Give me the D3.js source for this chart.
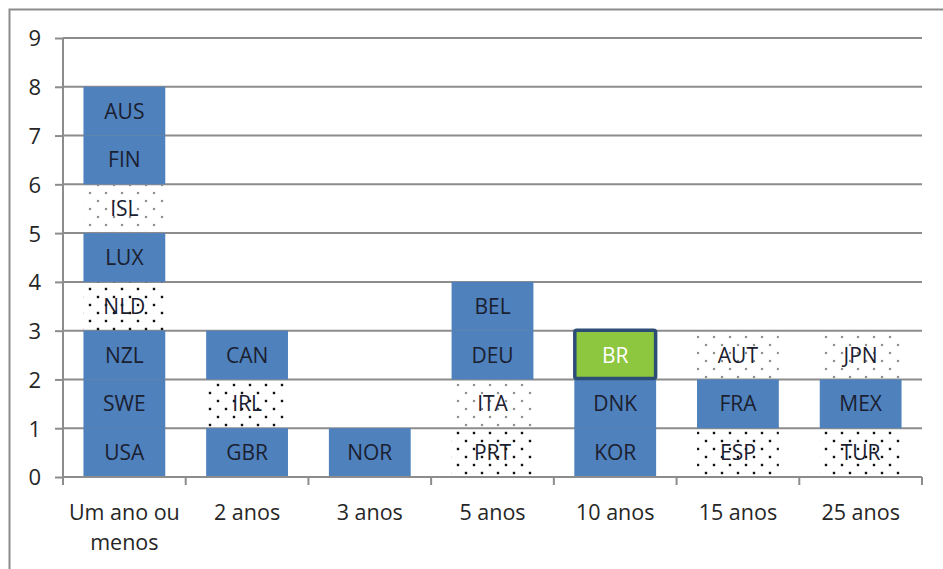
<!DOCTYPE html>
<html>
<head>
<meta charset="utf-8">
<script src="https://cdn.jsdelivr.net/npm/d3@7"></script>
<style>
  html, body { margin: 0; padding: 0; background: #fff; }
  svg { display: block; }
</style>
</head>
<body>
<svg id="chart" width="943" height="569"></svg>
<script>
// Prazo (categoria) e países empilhados de baixo para cima
const categories = ["Um ano ou menos", "2 anos", "3 anos", "5 anos", "10 anos", "15 anos", "25 anos"];
const categoryLines = [["Um ano ou", "menos"], ["2 anos"], ["3 anos"], ["5 anos"], ["10 anos"], ["15 anos"], ["25 anos"]];
const countries = ["USA", "SWE", "NZL", "NLD", "LUX", "ISL", "FIN", "AUS",
                   "GBR", "IRL", "CAN",
                   "NOR",
                   "PRT", "ITA", "DEU", "BEL",
                   "KOR", "DNK", "BR",
                   "ESP", "FRA", "AUT",
                   "TUR", "MEX", "JPN"];
const countryCategory = [0, 0, 0, 0, 0, 0, 0, 0,
                         1, 1, 1,
                         2,
                         3, 3, 3, 3,
                         4, 4, 4,
                         5, 5, 5,
                         6, 6, 6];
// grupo de cada país: "a" sólido, "b" pontilhado denso, "c" pontilhado leve, "br" Brasil
const countryGroup = ["a", "a", "a", "b", "a", "c", "a", "a",
                      "a", "b", "a",
                      "a",
                      "b", "c", "a", "a",
                      "a", "a", "br",
                      "b", "a", "c",
                      "b", "a", "c"];
const countryValue = countries.map(() => 1);
const yTicks = [0, 1, 2, 3, 4, 5, 6, 7, 8, 9];

const svg = d3.select("#chart");
const margin = { left: 63, right: 21, top: 38, bottom: 92 };
const W = 943, H = 569;
const innerW = W - margin.left - margin.right;
const innerH = H - margin.top - margin.bottom;

const font = "'Open Sans', Lato, 'Liberation Sans', sans-serif";

// moldura externa
svg.append("rect")
  .attr("x", 9.5).attr("y", 9.5)
  .attr("width", W + 20).attr("height", H + 20)
  .attr("fill", "none").attr("stroke", "#8c8c8c").attr("stroke-width", 2);

// padrões de preenchimento
const defs = svg.append("defs");
function dotPattern(id, color, r) {
  const p = defs.append("pattern").attr("id", id)
    .attr("patternUnits", "userSpaceOnUse").attr("width", 16).attr("height", 16);
  [[3, 3], [11, 11]].forEach(([cx, cy]) =>
    p.append("rect").attr("x", cx - r).attr("y", cy - r)
      .attr("width", 2 * r).attr("height", 2 * r).attr("fill", color));
}
dotPattern("dense", "#111111", 1.2);
dotPattern("light", "#8f8f8f", 1.1);

const groupFill = { a: "#4f81bd", b: "url(#dense)", c: "url(#light)", br: "#8dc63f" };

const g = svg.append("g").attr("transform", `translate(${margin.left},${margin.top})`);

const x = d3.scaleBand().domain(d3.range(categories.length)).range([0, innerW])
  .paddingInner(1 / 3).paddingOuter(1 / 6);
const xOuter = d3.scaleBand().domain(d3.range(categories.length)).range([0, innerW]);
const y = d3.scaleLinear().domain([0, 9]).range([innerH, 0]);

// linhas de grade
g.append("g").selectAll("line").data(yTicks.filter(t => t > 0)).join("line")
  .attr("x1", 0).attr("x2", innerW)
  .attr("y1", d => y(d)).attr("y2", d => y(d))
  .attr("stroke", "#8c8c8c").attr("stroke-width", 2);

// empilhamento por categoria
const base = new Array(categories.length).fill(0);
const cells = countries.map((c, i) => {
  const k = countryCategory[i];
  const y0 = base[k];
  base[k] += countryValue[i];
  return { code: c, cat: k, y0, y1: base[k], group: countryGroup[i] };
});

g.append("g").selectAll("rect").data(cells).join("rect")
  .attr("x", d => x(d.cat))
  .attr("width", x.bandwidth())
  .attr("y", d => y(d.y1))
  .attr("height", d => y(d.y0) - y(d.y1))
  .attr("fill", d => groupFill[d.group]);

// destaque do Brasil
g.append("g").selectAll("rect").data(cells.filter(d => d.group === "br")).join("rect")
  .attr("x", d => x(d.cat) + 0.5)
  .attr("width", x.bandwidth() - 1)
  .attr("y", d => y(d.y1) - 0.5)
  .attr("height", d => y(d.y0) - y(d.y1) - 0.5)
  .attr("fill", "none").attr("stroke", "#2c4d75").attr("stroke-width", 3.5).attr("rx", 2);

g.append("g").selectAll("text").data(cells).join("text")
  .attr("x", d => x(d.cat) + x.bandwidth() / 2)
  .attr("y", d => (y(d.y0) + y(d.y1)) / 2 + 7.5)
  .attr("text-anchor", "middle")
  .attr("font-family", font).attr("font-size", 21)
  .attr("fill", d => d.group === "br" ? "#ffffff" : "#1a2030")
  .text(d => d.code);

// eixo Y
const yAxis = g.append("g").call(d3.axisLeft(y).tickValues(yTicks).tickSize(8).tickPadding(14));
yAxis.select(".domain").attr("stroke", "#8c8c8c").attr("stroke-width", 2).attr("d", `M0,${innerH}V0`);
yAxis.selectAll(".tick line").attr("stroke", "#8c8c8c").attr("stroke-width", 2);
yAxis.selectAll(".tick text").attr("font-family", font).attr("font-size", 22).attr("fill", "#262626")
  .attr("dy", "0.36em");

// eixo X
const xAxis = g.append("g").attr("transform", `translate(0,${innerH})`);
xAxis.append("line").attr("x1", 0).attr("x2", innerW).attr("stroke", "#8c8c8c").attr("stroke-width", 2);
xAxis.selectAll("line.tk").data(d3.range(categories.length + 1)).join("line").attr("class", "tk")
  .attr("x1", d => d < categories.length ? xOuter(d) : innerW)
  .attr("x2", d => d < categories.length ? xOuter(d) : innerW)
  .attr("y1", 0).attr("y2", 8)
  .attr("stroke", "#8c8c8c").attr("stroke-width", 2);
xAxis.selectAll("text").data(categories).join("text")
  .attr("x", (d, i) => xOuter(i) + xOuter.bandwidth() / 2)
  .attr("y", 43)
  .attr("text-anchor", "middle")
  .attr("font-family", font).attr("font-size", 21.5).attr("fill", "#262626")
  .each(function (d, i) {
    const t = d3.select(this);
    categoryLines[i].forEach((line, j) =>
      t.append("tspan").attr("x", xOuter(i) + xOuter.bandwidth() / 2).attr("dy", j === 0 ? 0 : 30).text(line));
  });
</script>
</body>
</html>
